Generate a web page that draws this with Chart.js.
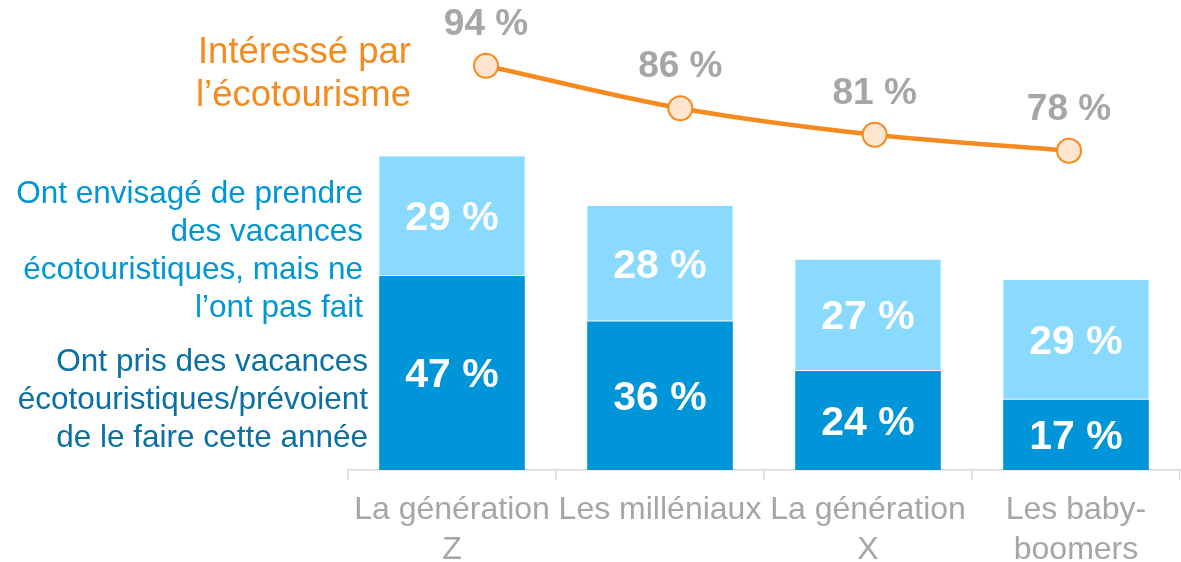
<!DOCTYPE html>
<html><head><meta charset="utf-8">
<script src="https://cdn.jsdelivr.net/npm/chart.js@4/dist/chart.umd.min.js"></script>
<style>html,body{margin:0;padding:0;background:#fff}#wrap{width:1181px;height:562px}</style>
</head><body><div id="wrap"><canvas id="c" width="1181" height="562"></canvas></div>
<script>
const categories = [["La génération","Z"], "Les milléniaux", ["La génération","X"], ["Les baby-","boomers"]];
const tookTrip = [47, 36, 24, 17];
const consideredTrip = [29, 28, 27, 29];
const interested = [94, 86, 81, 78];
const labelInterested = ["Intéressé par", "l\u2019écotourisme"];
const labelConsidered = ["Ont envisagé de prendre", "des vacances", "écotouristiques, mais ne", "l\u2019ont pas fait"];
const labelTook = ["Ont pris des vacances", "écotouristiques/prévoient", "de le faire cette année"];

const FONT = '"Liberation Sans", Arial, sans-serif';

const labelPlugin = {
  id: 'labels',
  afterDatasetsDraw(chart) {
    const ctx = chart.ctx;
    ctx.save();
    ctx.textAlign = 'center';
    ctx.textBaseline = 'middle';
    [0, 1].forEach(di => {
      const meta = chart.getDatasetMeta(di);
      const vals = chart.data.datasets[di].data;
      ctx.font = 'bold 41px ' + FONT;
      ctx.fillStyle = '#ffffff';
      meta.data.forEach((el, i) => {
        ctx.fillText(vals[i] + ' %', el.x, (el.y + el.base) / 2 + 3);
      });
    });
    const lm = chart.getDatasetMeta(2);
    ctx.font = 'bold 37px ' + FONT;
    ctx.fillStyle = '#a6a6a6';
    lm.data.forEach((el, i) => {
      ctx.fillText(interested[i] + ' %', el.x, el.y - 41);
    });
    ctx.textAlign = 'right';
    ctx.font = '36.5px ' + FONT;
    ctx.fillStyle = '#f58a1f';
    labelInterested.forEach((t, i) => ctx.fillText(t, 411, 53 + i * 43));
    ctx.font = '31.5px ' + FONT;
    ctx.fillStyle = '#0096d6';
    labelConsidered.forEach((t, i) => ctx.fillText(t, 363, 194 + i * 38));
    ctx.fillStyle = '#0a6fa2';
    labelTook.forEach((t, i) => ctx.fillText(t, 368, 362 + i * 38));
    ctx.restore();
  }
};

new Chart(document.getElementById('c'), {
  data: {
    labels: categories,
    datasets: [
      { type: 'bar', data: tookTrip, backgroundColor: '#0095d8', yAxisID: 'y', xAxisID: 'x', grouped: false,
        barPercentage: 0.7, categoryPercentage: 1, borderWidth: 0 },
      { type: 'bar', data: consideredTrip, backgroundColor: '#8ad9ff', yAxisID: 'y', xAxisID: 'x', grouped: false,
        barPercentage: 0.7, categoryPercentage: 1, borderColor: 'rgba(255,255,255,0.85)', borderWidth: {bottom: 1}, borderSkipped: false },
      { type: 'line', data: interested.map((v, i) => ({x: i, y: v})), xAxisID: 'x2', yAxisID: 'y2', order: -1,
        borderColor: '#f58a1f', borderWidth: 4.5, cubicInterpolationMode: 'monotone',
        pointRadius: 12, pointBackgroundColor: '#fde5cf', pointBorderColor: '#f58a1f', pointBorderWidth: 2 }
    ]
  },
  options: {
    responsive: false,
    animation: false,
    layout: { autoPadding: false, padding: { left: 348, right: 1, top: 20, bottom: 0 } },
    plugins: { legend: { display: false }, tooltip: { enabled: false } },
    scales: {
      x: {
        stacked: true,
        grid: { display: true, offset: true, drawOnChartArea: false, tickLength: 10, color: '#d9d9d9', lineWidth: 1.5 },
        border: { display: true, color: '#d9d9d9', width: 1.5 },
        ticks: { color: '#a6a6a6', font: { family: FONT, size: 32, lineHeight: 1.25 }, padding: 10, maxRotation: 0, autoSkip: false },
        afterFit(axis) { axis.height = 92; axis.paddingLeft = 0; axis.paddingRight = 0; }
      },
      x2: { type: 'linear', display: false, min: -0.71, max: 3.571 },
      y: { stacked: true, display: false, min: 0, max: 109 },
      y2: { display: false, min: 17.9, max: 102.6 }
    }
  },
  plugins: [labelPlugin]
});
</script>
</body></html>
